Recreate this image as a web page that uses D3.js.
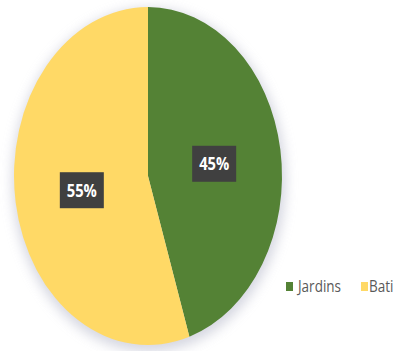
<!DOCTYPE html>
<html><head><meta charset="utf-8">
<script src="https://cdn.jsdelivr.net/npm/d3@7"></script>
<style>html,body{margin:0;padding:0;background:#fff;overflow:hidden;}svg{display:block;}</style>
</head><body>
<script>
const categories = ["Jardins", "Bati"];
const values = [45, 55];
const labels = ["45%", "55%"];
const colors = ["#548235", "#FFD966"];

const W = 396, H = 351;
const cx = 148, cy = 176, rx = 134, ry = 169;
const sy = ry / rx;

const svg = d3.select("body").append("svg").attr("width", W).attr("height", H);
const defs = svg.append("defs");
const f = defs.append("filter").attr("id", "sh").attr("x", "-20%").attr("y", "-20%").attr("width", "140%").attr("height", "140%");
f.append("feGaussianBlur").attr("stdDeviation", 6);

const pie = d3.pie().sort(null).value(d => d)(values);
const arc = d3.arc().innerRadius(0).outerRadius(rx);

// shadow
svg.append("ellipse").attr("cx", cx + 1).attr("cy", cy + 4).attr("rx", rx + 3).attr("ry", ry + 3)
  .attr("fill", "#c9cbd8").attr("opacity", 0.75).attr("filter", "url(#sh)");

const g = svg.append("g").attr("transform", `translate(${cx},${cy}) scale(1,${sy})`);
g.selectAll("path").data(pie).enter().append("path")
  .attr("d", arc).attr("fill", (d, i) => colors[i]);

const labArc = d3.arc().innerRadius(0).outerRadius(rx * 1.0);
const lg = svg.append("g");
pie.forEach((d, i) => {
  const c = labArc.centroid(d);
  const x = cx + c[0], y = cy + c[1] * sy + 1;
  const bw = 44, bh = 36;
  lg.append("rect").attr("x", x - bw / 2).attr("y", y - bh / 2).attr("width", bw).attr("height", bh)
    .attr("fill", "#404040");
  lg.append("text").attr("transform", `translate(${x},${y}) scale(0.95,1.2)`)
    .attr("text-anchor", "middle").attr("dy", "0.36em")
    .attr("font-family", "Open Sans, sans-serif").attr("font-weight", "bold").attr("font-size", 15.5)
    .attr("fill", "#ffffff").text(labels[i]);
});

// legend
const leg = svg.append("g");
const legX = [286, 361];
categories.forEach((c, i) => {
  leg.append("rect").attr("x", legX[i]).attr("y", 282).attr("width", 7).attr("height", 9).attr("fill", colors[i]);
  leg.append("text").attr("transform", `translate(${legX[i] + (i === 0 ? 12 : 8)},${292}) scale(1,1.15)`)
    .attr("font-family", "Open Sans, sans-serif").attr("font-size", 13.5)
    .attr("fill", "#595959").text(c);
});
</script>
</body></html>
